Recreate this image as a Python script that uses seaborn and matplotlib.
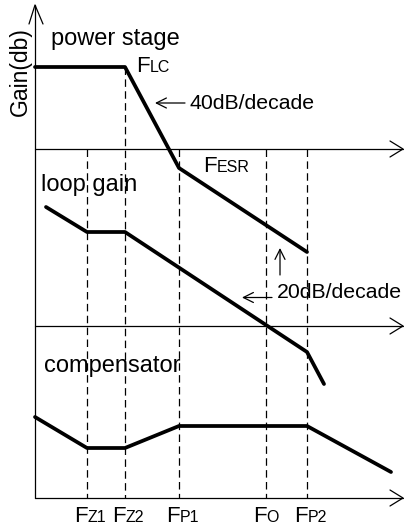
import matplotlib
matplotlib.use("Agg")
import matplotlib.pyplot as plt
import seaborn as sns
import pandas as pd

sns.set_theme(style="white")
plt.rcParams['font.family'] = ['Liberation Sans', 'DejaVu Sans']
plt.rcParams['text.color'] = 'black'

# ---- data (x = log-frequency position, y = gain level, in drawing units) ----
F_Z1, F_Z2, F_P1, F_O, F_P2 = 87, 125, 179, 266, 307
F_LC, F_ESR = F_Z2, F_P1

power_x = [35, F_LC, F_ESR, F_P2]
power_y = [67, 67, 168, 252]

loop_x = [46, F_Z1, F_Z2, F_P2, 324]
loop_y = [207, 232, 232, 352, 384]

comp_x = [35, F_Z1, F_Z2, F_P1, F_P2, 391]
comp_y = [417, 448, 448, 426, 426, 472]

axis_levels = [149, 326, 498]          # three stacked zero-dB axes
freq_labels = [("Z1", F_Z1), ("Z2", F_Z2), ("P1", F_P1), ("O", F_O), ("P2", F_P2)]

W, H = 404, 529
fig = plt.figure(figsize=(W / 100, H / 100), dpi=100)
ax = fig.add_axes([0, 0, 1, 1])

K = "black"
X0, XEND, YTOP = 35, 403, 5

# vertical axis with open arrow
ax.plot([X0, X0], [YTOP, axis_levels[-1]], color=K, lw=0.9)
ax.plot([29, X0, 43], [24, YTOP, 24], color=K, lw=0.9)

# horizontal axes with open arrows
for yl in axis_levels:
    ax.plot([X0, XEND], [yl, yl], color=K, lw=0.9)
    ax.plot([390, XEND, 390], [yl - 8, yl, yl + 8], color=K, lw=0.9)

# dashed frequency markers
ax.plot([F_LC, F_LC], [power_y[0], axis_levels[-1]], color=K, lw=0.9, ls=(0, (6, 3.5)))
for f in [F_Z1, F_P1, F_O, F_P2]:
    ax.plot([f, f], [axis_levels[0], axis_levels[-1]], color=K, lw=0.9, ls=(0, (6, 3.5)))

# thick asymptotic curves
for xs, ys in [(power_x, power_y), (loop_x, loop_y), (comp_x, comp_y)]:
    df = pd.DataFrame({"x": xs, "y": ys})
    sns.lineplot(data=df, x="x", y="y", sort=False, estimator=None, color=K,
                 lw=2.7, ax=ax, legend=False)
ax.set_xlim(0, W)
ax.set_ylim(H, 0)
ax.axis("off")

# texts
BIG = 17
ax.text(20, 72, "Gain(db)", rotation=90, fontsize=16.5, ha="center", va="center", color=K)
ax.text(51, 45, "power stage", fontsize=BIG, ha="left", va="baseline", color=K)
ax.text(41, 191, "loop gain", fontsize=BIG, ha="left", va="baseline", color=K)
ax.text(44, 372, "compensator", fontsize=BIG, ha="left", va="baseline", color=K)

FS, SS = 16, 11.5
def flabel(x, y, sub):
    ax.text(x, y, "F", fontsize=FS, ha="left", va="baseline", color=K)
    ax.text(x + 13.5, y, sub, fontsize=SS, ha="left", va="baseline", color=K)

flabel(136, 71.5, "LC")
flabel(203, 171.5, "ESR")
for sub, f in freq_labels:
    flabel(f - 13, 522.5, sub)

ax.text(189, 109, "40dB/decade", fontsize=15.3, ha="left", va="baseline", color=K)
ax.text(277, 298.5, "20dB/decade", fontsize=15.3, ha="left", va="baseline", color=K)

arw = dict(arrowstyle="->,head_length=0.6,head_width=0.3", color=K, lw=0.9,
           shrinkA=0, shrinkB=0)
ax.annotate("", xy=(155, 103), xytext=(185, 103), arrowprops=arw)
ax.annotate("", xy=(242, 297.5), xytext=(272, 297.5), arrowprops=arw)
ax.annotate("", xy=(280, 248), xytext=(280, 275), arrowprops=arw)

fig.savefig("out.png", dpi=100)
